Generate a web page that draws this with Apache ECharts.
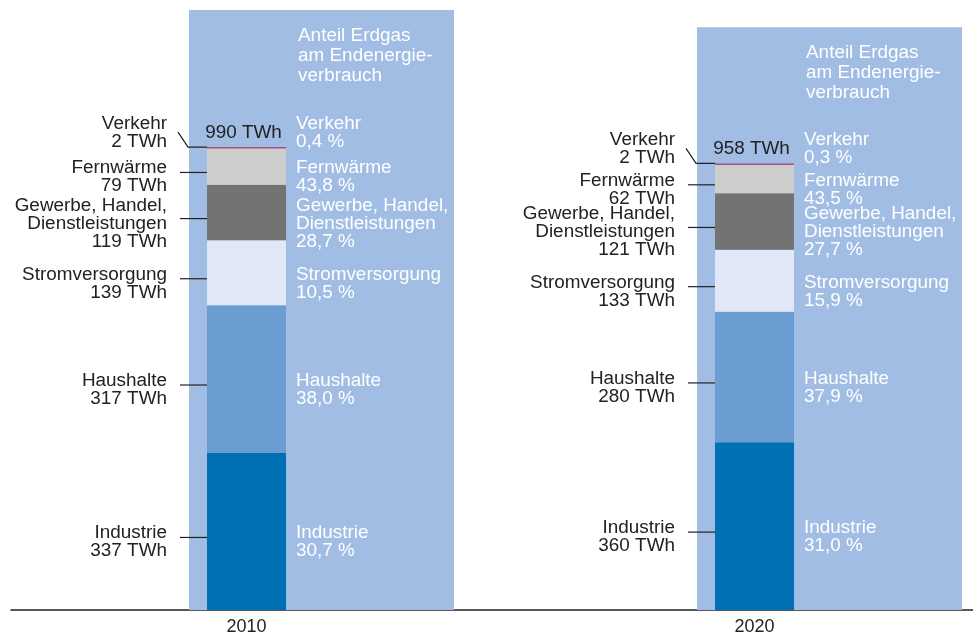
<!doctype html>
<html>
<head>
<meta charset="utf-8">
<title>Anteil Erdgas am Endenergieverbrauch</title>
<script src="https://cdn.jsdelivr.net/npm/echarts@6/dist/echarts.min.js"></script>
<style>
  html, body { margin: 0; padding: 0; background: #fff; }
  #chart { width: 973px; height: 636px; }
</style>
</head>
<body>
<div id="chart"></div>
<script>
// Sektoren, von unten nach oben gestapelt
var sectors = ["Industrie", "Haushalte", "Stromversorgung", "Gewerbe, Handel,\nDienstleistungen", "Fernwärme", "Verkehr"];
var years = [2010, 2020];
var twh2010 = [337, 317, 139, 119, 79, 2];
var twh2020 = [360, 280, 133, 121, 62, 2];
var share2010 = ["30,7 %", "38,0 %", "10,5 %", "28,7 %", "43,8 %", "0,4 %"];
var share2020 = ["31,0 %", "37,9 %", "15,9 %", "27,7 %", "43,5 %", "0,3 %"];
var totals = [990, 958];
// Hoehe der hellblauen Flaeche "Anteil Erdgas" (TWh-Skala)
var panelTop = [1287, 1250];
var panelTitle = "Anteil Erdgas\nam Endenergie-\nverbrauch";

var colors = ["#0070b5", "#6a9ed2", "#e0e7f6", "#737373", "#cdcfcd", "#a44f87"];
var panelColor = "#a1bde4";
var fontFamily = "'Liberation Sans', Arial, sans-serif";
var textScale = 1.05;

var chart = echarts.init(document.getElementById("chart"));

function label(text, x, y, fill, align, lineHeight) {
	return {
		type: "text",
		x: x, y: y,
		scaleX: textScale,
		style: {
			text: text, x: 0, y: 0,
			fill: fill, fontSize: 18, lineHeight: lineHeight || 18, fontFamily: fontFamily,
			align: align, verticalAlign: "middle"
		}
	};
}

function renderColumn(params, api) {
	var i = params.dataIndex;
	var year = api.value(0);
	var vals = i === 0 ? twh2010 : twh2020;
	var shares = i === 0 ? share2010 : share2020;
	var base = api.coord([year, 0]);
	var barW = 79;
	var barLeft = base[0] - barW / 2;
	var barRight = barLeft + barW;
	var children = [];

	var bgTop = api.coord([year, panelTop[i]])[1];
	children.push({
		type: "rect",
		shape: { x: barLeft - 18, y: bgTop, width: 265, height: base[1] - bgTop },
		style: { fill: panelColor }
	});
	children.push(label(panelTitle, barRight + 12, bgTop + 46, "#fff", "left", 20));

	var cum = 0;
	var top = base[1];
	for (var k = 0; k < vals.length; k++) {
		var y0 = api.coord([year, cum])[1];
		cum += vals[k];
		var y1 = api.coord([year, cum])[1];
		top = y1;
		children.push({
			type: "rect",
			shape: { x: barLeft, y: y1, width: barW, height: Math.max(y0 - y1, 1.5) },
			style: { fill: colors[k] }
		});
		var textY;
		if (k === vals.length - 1) {
			textY = y1 - 14.5;
			children.push({
				type: "polyline",
				shape: { points: [[barLeft - 29, y1 - 15], [barLeft - 19, y1], [barLeft, y1]] },
				style: { stroke: "#222", lineWidth: 1.2, fill: null }
			});
		} else {
			var ly = (y0 + y1) / 2 + 6;
			textY = ly + 5;
			children.push({
				type: "line",
				shape: { x1: barLeft - 27, y1: ly, x2: barLeft, y2: ly },
				style: { stroke: "#222", lineWidth: 1.2 }
			});
		}
		children.push(label(sectors[k] + "\n" + vals[k] + " TWh", barLeft - 40, textY, "#222", "right"));
		children.push(label(sectors[k] + "\n" + shares[k], barRight + 10, textY, "#fff", "left"));
	}

	children.push(label(totals[i] + " TWh", base[0] - 3, top - 14, "#222", "center"));

	return { type: "group", children: children };
}

chart.setOption({
	animation: false,
	grid: { left: 11, right: 0, top: 4, bottom: 26 },
	xAxis: {
		type: "value",
		min: 2005.364,
		max: 2024.301,
		splitLine: { show: false },
		axisTick: { show: false },
		axisLine: { show: true, lineStyle: { color: "#222", width: 1.5 } },
		axisLabel: {
			customValues: years,
			formatter: function (v) { return String(v); },
			color: "#222",
			fontSize: 18,
			fontFamily: fontFamily,
			margin: 8
		}
	},
	yAxis: {
		type: "value",
		min: 0,
		max: 1300,
		show: false
	},
	series: [{
		type: "custom",
		renderItem: renderColumn,
		clip: false,
		z: 1,
		data: years.map(function (y, i) { return [y, panelTop[i]]; })
	}]
});
</script>
</body>
</html>
